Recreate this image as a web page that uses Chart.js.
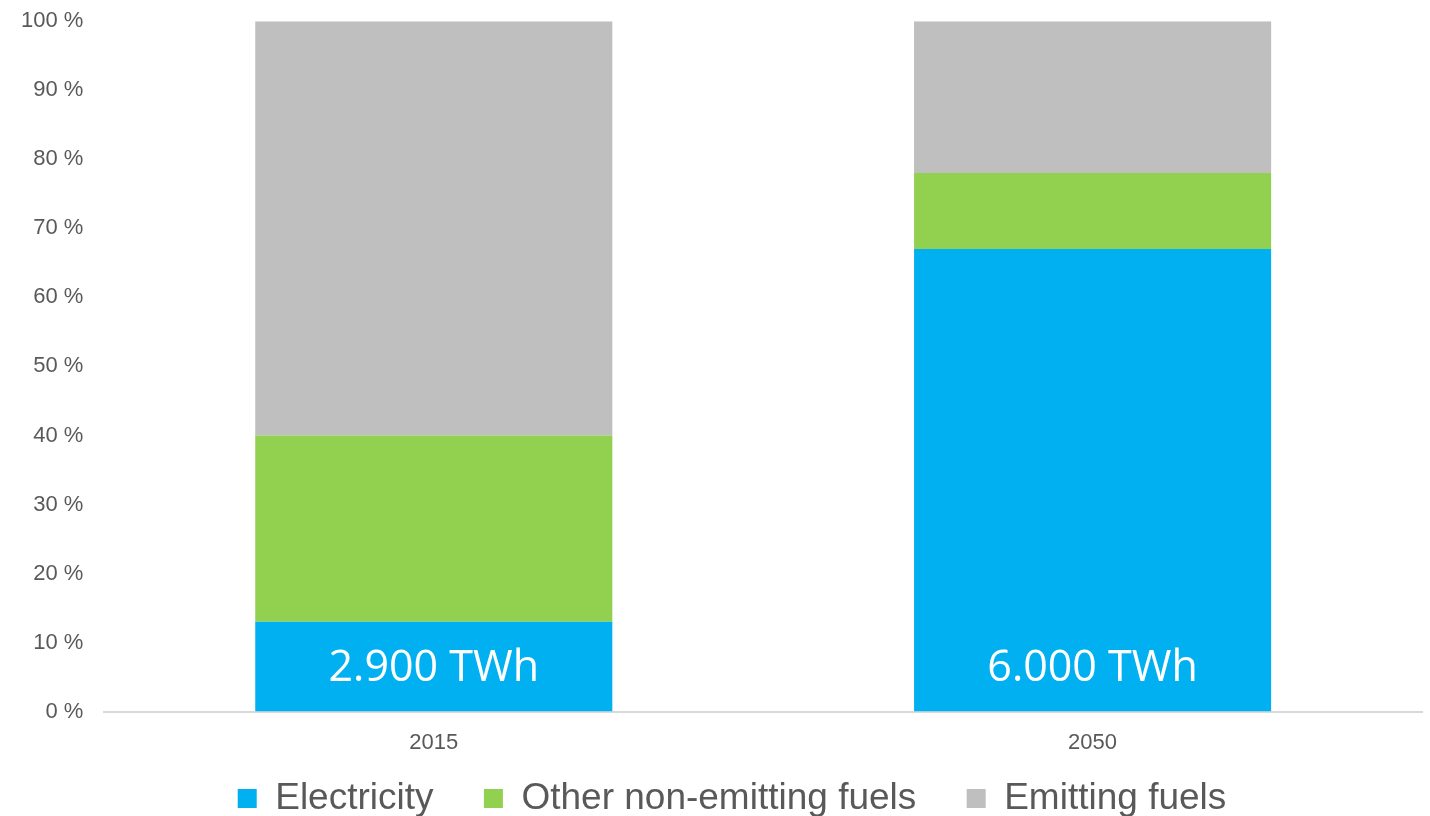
<!DOCTYPE html>
<html>
<head>
<meta charset="utf-8">
<script src="https://cdn.jsdelivr.net/npm/chart.js@4.4.1/dist/chart.umd.min.js"></script>
<style>
  html, body { margin: 0; padding: 0; background: #fff; overflow: hidden; }
  /* the reference is cropped: title cut off at the top, legend on the bottom edge */
  #wrap { width: 1430px; height: 840px; margin-top: -13px; position: relative; }
</style>
</head>
<body>
<div id="wrap"><canvas id="c"></canvas></div>
<script>
// values (share of final energy use, %)
const years = ['2015', '2050']
const electricity = [13, 67]
const otherNonEmitting = [27, 11]
const emittingFuels = [60, 22]
const electricityLabels = ['2.900 TWh', '6.000 TWh']
const yTicks = [0, 10, 20, 30, 40, 50, 60, 70, 80, 90, 100]

const labelPos = 6.2 // value on y axis where the TWh labels sit
const legendGap = '\u2002\u2002\u2009' // extra room between legend entries
const legendShift = 21 // legend is a bit right of the canvas centre in the reference

const twhLabels = {
  id: 'twhLabels',
  afterLayout(chart) {
    chart.legend.left += legendShift
    chart.legend.right += legendShift
  },
  afterDatasetsDraw(chart) {
    const meta = chart.getDatasetMeta(0)
    const y = chart.scales.y.getPixelForValue(labelPos)
    const ctx = chart.ctx
    ctx.save()
    ctx.fillStyle = '#ffffff'
    ctx.font = '43px "Open Sans"'
    ctx.textAlign = 'center'
    ctx.textBaseline = 'middle'
    meta.data.forEach((bar, i) => {
      ctx.fillText(electricityLabels[i], bar.x, y)
    })
    ctx.restore()
  },
}

new Chart(document.getElementById('c'), {
  type: 'bar',
  data: {
    labels: years,
    datasets: [
      { label: 'Electricity', data: electricity, backgroundColor: '#00B0F0' },
      { label: 'Other non-emitting fuels', data: otherNonEmitting, backgroundColor: '#92D050' },
      { label: 'Emitting fuels', data: emittingFuels, backgroundColor: '#BFBFBF' },
    ],
  },
  options: {
    responsive: true,
    maintainAspectRatio: false,
    animation: false,
    layout: { padding: { top: 6, left: 0, right: 8, bottom: 0 } },
    datasets: { bar: { barPercentage: 1, categoryPercentage: 0.542 } },
    plugins: {
      tooltip: { enabled: false },
      legend: {
        position: 'bottom',
        labels: {
          color: '#595959',
          font: { family: '"Liberation Sans", Arial', size: 37 },
          boxWidth: 19,
          boxHeight: 19,
          padding: 6,
          useBorderRadius: false,
          generateLabels: (chart) => {
            const items = Chart.defaults.plugins.legend.labels.generateLabels(chart)
            items.forEach((it, i) => {
              if (i < items.length - 1) it.text = it.text + legendGap
            })
            return items
          },
        },
      },
    },
    scales: {
      x: {
        stacked: true,
        grid: { display: false, drawTicks: false },
        border: { color: '#D9D9D9', width: 2 },
        ticks: { color: '#595959', font: { family: '"Liberation Sans", Arial', size: 22 }, padding: 18 },
      },
      y: {
        stacked: true,
        min: 0,
        max: 100,
        afterBuildTicks: (s) => { s.ticks = yTicks.map(v => ({ value: v })) },
        grid: { display: false, drawTicks: false },
        border: { display: false },
        ticks: {
          color: '#595959',
          font: { family: '"Liberation Sans", Arial', size: 22 },
          padding: 21,
          callback: v => v + ' %',
        },
      },
    },
  },
  plugins: [twhLabels],
})
</script>
</body>
</html>
